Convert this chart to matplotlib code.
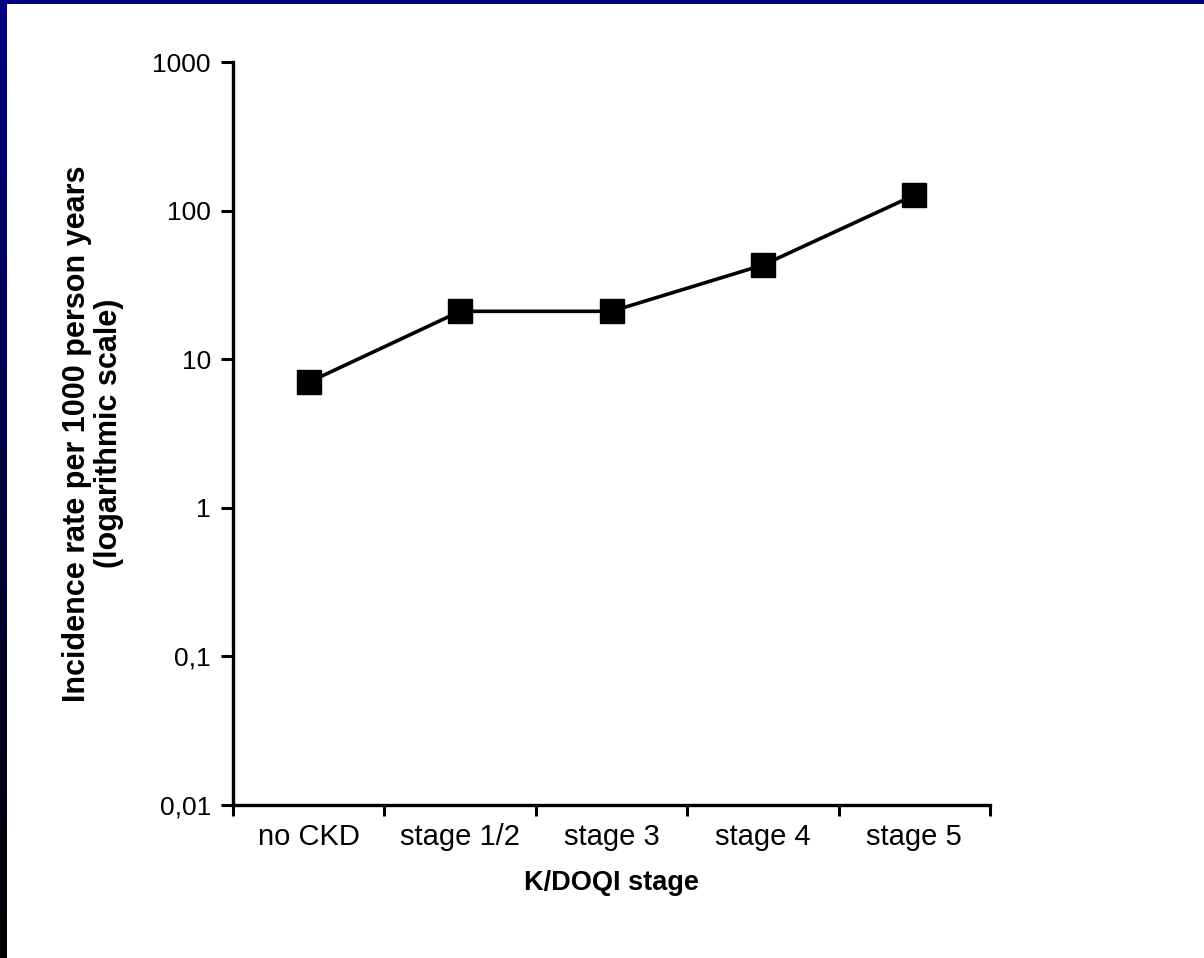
import matplotlib.pyplot as plt
import numpy as np

# Data
stages = ['no CKD', 'stage 1/2', 'stage 3', 'stage 4', 'stage 5']
incidence = [7.0, 21.0, 21.0, 43.0, 127.0]
ytick_vals = [0.01, 0.1, 1, 10, 100, 1000]
ytick_labels = ['0,01', '0,1', '1', '10', '100', '1000']

plt.rcParams['font.family'] = ['Liberation Sans', 'DejaVu Sans']

fig = plt.figure(figsize=(12.04, 9.58), dpi=100)
fig.patch.set_facecolor('white')

# slide frame: gradient bar on the left, navy strip on top
W, H = 1204, 958
bar = fig.add_axes([0, 0, 7 / W, 1])
grad = np.linspace(0, 1, 256)
cols = np.zeros((256, 1, 3))
cols[:, 0, 2] = 0.5 * grad
bar.imshow(cols, aspect='auto', origin='lower')
bar.axis('off')
top = fig.add_axes([0, 1 - 4 / H, 1, 4 / H])
top.set_facecolor('#000080')
top.set_xticks([])
top.set_yticks([])
for s in top.spines.values():
    s.set_visible(False)

ax = fig.add_axes([233 / W, 1 - 805 / H, (990 - 233) / W, (805 - 62) / H])
x = np.arange(len(stages))
ax.plot(x, incidence, color='black', lw=2.6, marker='s', ms=17, mfc='black', mec='black')

ax.set_yscale('log')
ax.set_ylim(0.01, 1000)
ax.set_xlim(-0.5, len(stages) - 0.5)
ax.set_yticks(ytick_vals)
ax.set_yticklabels(ytick_labels)
ax.yaxis.set_minor_locator(plt.NullLocator())
ax.set_xticks(np.arange(-0.5, len(stages)))
ax.set_xticklabels([])
ax.set_xticks(x, minor=True)
ax.set_xticklabels(stages, minor=True)
ax.tick_params(axis='x', which='minor', length=0, pad=13, labelsize=21)
ax.tick_params(axis='x', which='major', length=8, width=2.2, direction='out')
ax.tick_params(axis='y', length=9, width=2.2, direction='out', labelsize=19, pad=7)

for side in ['top', 'right']:
    ax.spines[side].set_visible(False)
for side in ['left', 'bottom']:
    ax.spines[side].set_linewidth(2.4)

ax.set_xlabel('K/DOQI stage', fontsize=19.5, fontweight='bold', labelpad=14)
ax.set_ylabel('Incidence rate per 1000 person years\n(logarithmic scale)',
              fontsize=22, fontweight='bold', labelpad=20, linespacing=1.1)

fig.savefig('out.png', dpi=100)
